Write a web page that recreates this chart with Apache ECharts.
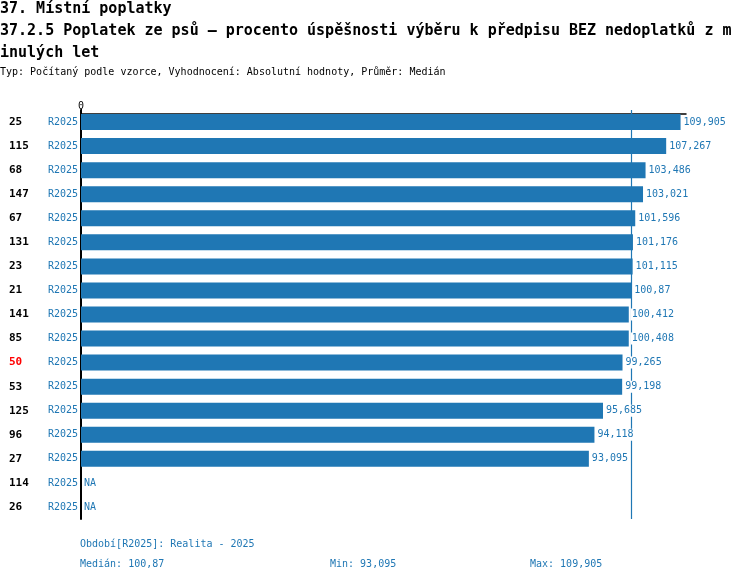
<!DOCTYPE html>
<html>
<head>
<meta charset="utf-8">
<script src="https://cdn.jsdelivr.net/npm/echarts@6/dist/echarts.min.js"></script>
<style>
  html, body { margin: 0; padding: 0; background: #fff; }
  #chart { width: 750px; height: 582px; }
</style>
</head>
<body>
<div id="chart"></div>
<script>
var categories = ['25', '115', '68', '147', '67', '131', '23', '21', '141', '85', '50', '53', '125', '96', '27', '114', '26'];
var periodLabel = 'R2025';
var values = [109.905, 107.267, 103.486, 103.021, 101.596, 101.176, 101.115, 100.87, 100.412, 100.408, 99.265, 99.198, 95.685, 94.118, 93.095, null, null];
var highlighted = '50';
var median = 100.87;
var minValue = 93.095;
var maxValue = 109.905;

var mono = '"DejaVu Sans Mono", monospace';
var blue = '#1f77b4';

function fmt(v) {
	return String(v).replace('.', ',');
}

var barData = [];
for (var i = 0; i < values.length; i++) {
	if (values[i] === null) {
		barData.push({ value: 0, na: true, itemStyle: { color: 'rgba(0,0,0,0)' } });
	} else {
		barData.push({ value: values[i] });
	}
}

var dom = document.getElementById('chart');
var myChart = echarts.init(dom);
var option = {
	animation: false,
	title: [
		{
			text: '37. Místní poplatky\n37.2.5 Poplatek ze psů – procento úspěšnosti výběru k předpisu BEZ nedoplatků z m\ninulých let',
			left: 0,
			top: -2,
			padding: 0,
			textStyle: { fontFamily: mono, fontSize: 15, fontWeight: 'bold', color: '#000', lineHeight: 22 }
		},
		{
			text: 'Typ: Počítaný podle vzorce, Vyhodnocení: Absolutní hodnoty, Průměr: Medián',
			left: 0,
			top: 67,
			padding: 0,
			textStyle: { fontFamily: mono, fontSize: 10, fontWeight: 'normal', color: '#000' }
		}
	],
	graphic: [
		{ type: 'text', left: 80, top: 539, style: { text: 'Období[R2025]: Realita - 2025', font: '10px ' + mono, fill: blue } },
		{ type: 'text', left: 80, top: 559, style: { text: 'Medián: ' + fmt(median), font: '10px ' + mono, fill: blue } },
		{ type: 'text', left: 330, top: 559, style: { text: 'Min: ' + fmt(minValue), font: '10px ' + mono, fill: blue } },
		{ type: 'text', left: 530, top: 559, style: { text: 'Max: ' + fmt(maxValue), font: '10px ' + mono, fill: blue } }
	],
	grid: { left: 81, top: 110, width: 605, height: 409, containLabel: false },
	xAxis: {
		type: 'value',
		position: 'top',
		offset: -4,
		min: 0,
		max: 110.9,
		interval: 200,
		splitLine: { show: false },
		axisLine: { show: true, lineStyle: { color: '#000', width: 1.5 } },
		axisTick: { show: true, length: 5, customValues: [0], lineStyle: { color: '#000' } },
		axisLabel: {
			margin: 3,
			customValues: [0],
			fontFamily: mono,
			fontSize: 10,
			color: '#000',
			formatter: function (v) { return v === 0 ? '0' : ''; }
		}
	},
	yAxis: {
		type: 'category',
		inverse: true,
		data: categories,
		axisLine: { show: true, lineStyle: { color: '#000', width: 2 } },
		axisTick: { show: false },
		axisLabel: {
			margin: 3,
			align: 'right',
			formatter: function (v) {
				return (v === highlighted ? '{h|' + v + '}' : '{n|' + v + '}') + '{r|' + periodLabel + '}';
			},
			rich: {
				n: { width: 39, align: 'left', fontFamily: mono, fontSize: 11, fontWeight: 'bold', color: '#000' },
				h: { width: 39, align: 'left', fontFamily: mono, fontSize: 11, fontWeight: 'bold', color: '#ff0000' },
				r: { fontFamily: mono, fontSize: 10, color: blue }
			}
		}
	},
	series: [
		{
			type: 'bar',
			data: barData,
			barWidth: 16,
			z: 3,
			itemStyle: { color: blue, borderWidth: 0 },
			label: {
				show: true,
				position: 'right',
				distance: 2,
				fontFamily: mono,
				fontSize: 10,
				color: blue,
				backgroundColor: '#fff',
				padding: [1, 1],
				formatter: function (p) {
					return p.data.na ? 'NA' : fmt(p.value);
				}
			},
			markLine: {
				silent: true,
				z: 1,
				symbol: 'none',
				label: { show: false },
				lineStyle: { color: blue, width: 1.2, type: 'solid', opacity: 1 },
				emphasis: { disabled: true },
				data: [{ xAxis: median }]
			}
		}
	]
};

if (option && typeof option === "object") {
	myChart.setOption(option, true);
}
</script>
</body>
</html>
